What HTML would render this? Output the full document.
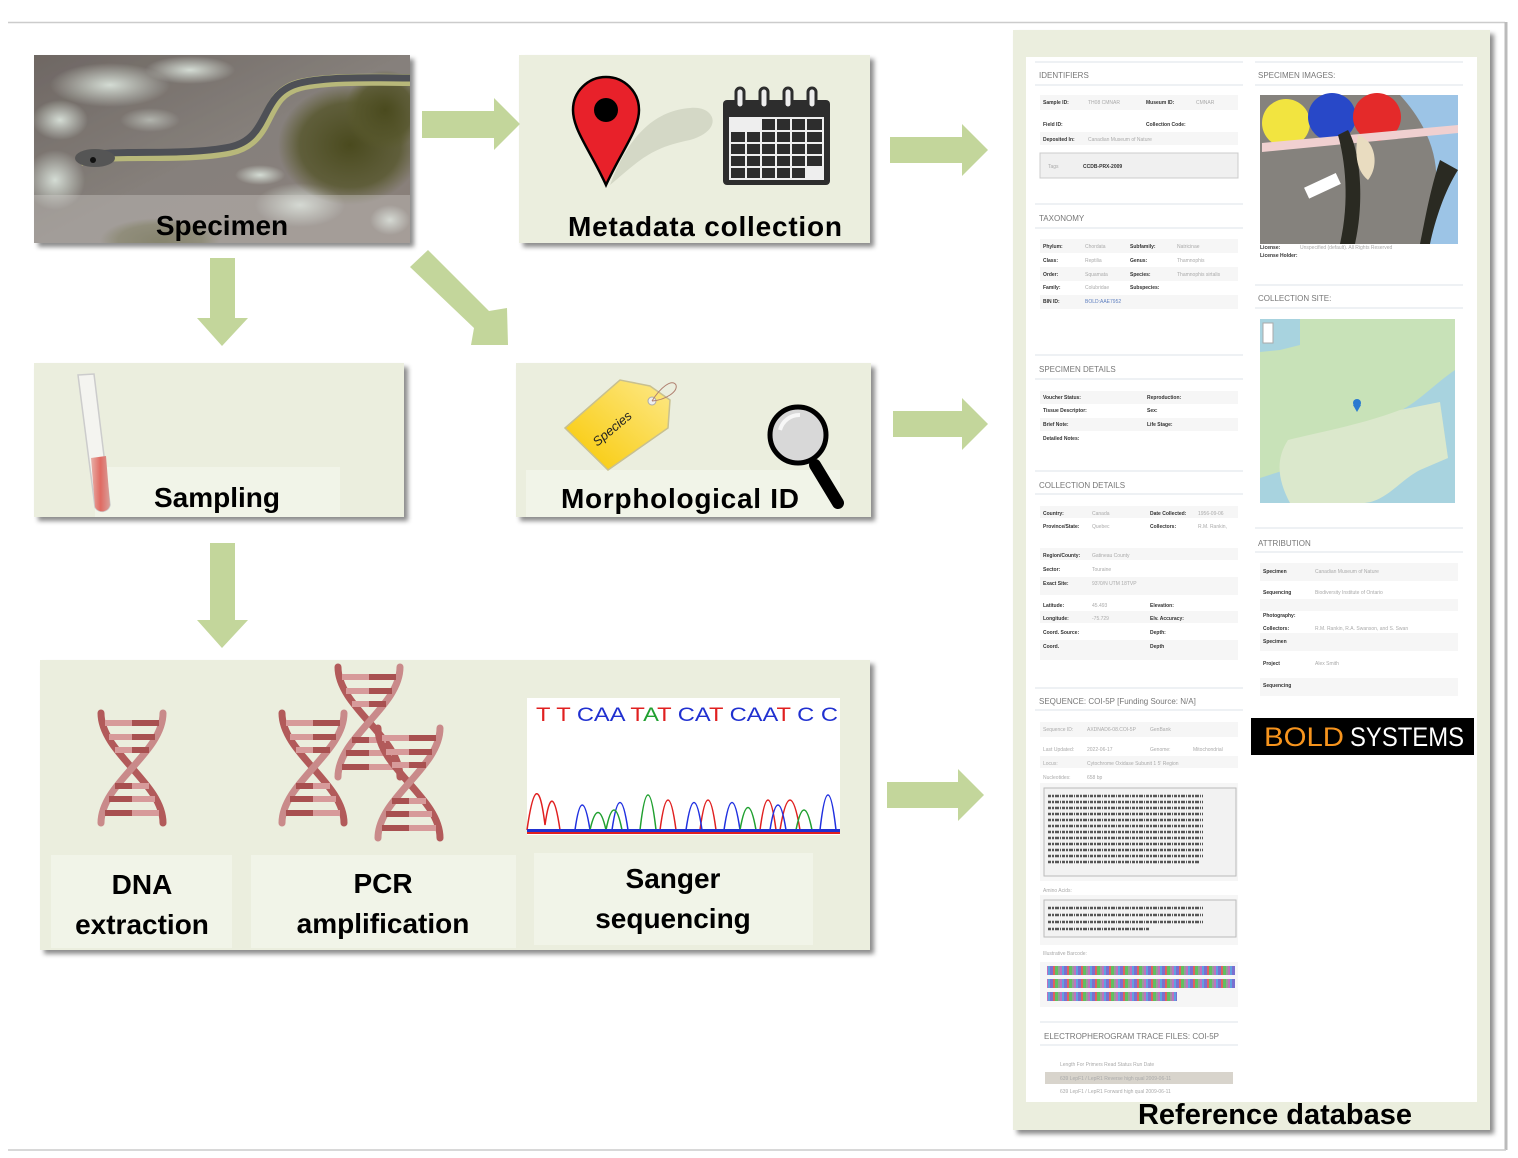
<!DOCTYPE html>
<html><head><meta charset="utf-8"><style>
html,body{margin:0;padding:0;background:#fff;width:1518px;height:1158px;overflow:hidden}
svg{display:block}
.lb{font-family:"Liberation Sans",sans-serif;font-weight:bold;fill:#000}
.h{font-family:"Liberation Sans",sans-serif;font-size:8px;fill:#777}
.s{font-family:"Liberation Sans",sans-serif;font-size:5px;fill:#333;font-weight:bold}
.g{font-family:"Liberation Sans",sans-serif;font-size:5px;fill:#aaa}
</style></head><body>
<svg width="1518" height="1158" viewBox="0 0 1518 1158" xmlns="http://www.w3.org/2000/svg">
<defs>
<clipPath id="pc"><rect x="34" y="55" width="376" height="188"/></clipPath>
<filter id="sh" x="-5%" y="-5%" width="115%" height="115%"><feDropShadow dx="4" dy="4" stdDeviation="2.5" flood-color="#000" flood-opacity="0.45"/></filter>
<linearGradient id="rock" x1="0" y1="0" x2="1" y2="1"><stop offset="0" stop-color="#6e6763"/><stop offset="0.5" stop-color="#86807b"/><stop offset="1" stop-color="#8a807a"/></linearGradient>
<radialGradient id="moss" cx="0.5" cy="0.5" r="0.5"><stop offset="0" stop-color="#4a4a1e"/><stop offset="0.7" stop-color="#55552a" stop-opacity="0.8"/><stop offset="1" stop-color="#5a5a2a" stop-opacity="0"/></radialGradient>
<radialGradient id="lichen" cx="0.5" cy="0.5" r="0.5"><stop offset="0" stop-color="#d4dcd4"/><stop offset="1" stop-color="#d4dcd4" stop-opacity="0"/></radialGradient>
<linearGradient id="tag" x1="0" y1="1" x2="1" y2="0"><stop offset="0" stop-color="#f8c800"/><stop offset="1" stop-color="#fde98a"/></linearGradient>
<linearGradient id="tube" x1="0" y1="0" x2="1" y2="0"><stop offset="0" stop-color="#e8b0a8"/><stop offset="0.5" stop-color="#e06a62"/><stop offset="1" stop-color="#d8a09a"/></linearGradient>
<pattern id="bc" width="14" height="10" patternUnits="userSpaceOnUse"><rect width="3" height="10" fill="#7b6fd0"/><rect x="3" width="2" height="10" fill="#e06060"/><rect x="5" width="3" height="10" fill="#60c060"/><rect x="8" width="2" height="10" fill="#9a9a9a"/><rect x="10" width="2" height="10" fill="#c070c0"/><rect x="12" width="2" height="10" fill="#60a0e0"/></pattern>
<g id="helix">
<path d="M4 0 C4 40 66 70 66 110" fill="none" stroke="#b25a5a" stroke-width="7" stroke-linecap="round"/>
<path d="M66 0 C66 40 4 70 4 110" fill="none" stroke="#c98a8a" stroke-width="7" stroke-linecap="round"/>
<g stroke-width="6">
<line x1="8" y1="10" x2="62" y2="10" stroke="#d79a9a"/><line x1="35" y1="10" x2="62" y2="10" stroke="#a85050"/>
<line x1="12" y1="24" x2="58" y2="24" stroke="#d79a9a"/><line x1="35" y1="24" x2="58" y2="24" stroke="#a85050"/>
<line x1="18" y1="37" x2="52" y2="37" stroke="#d79a9a"/><line x1="35" y1="37" x2="52" y2="37" stroke="#a85050"/>
<line x1="18" y1="73" x2="52" y2="73" stroke="#a85050"/><line x1="35" y1="73" x2="52" y2="73" stroke="#d79a9a"/>
<line x1="12" y1="86" x2="58" y2="86" stroke="#a85050"/><line x1="35" y1="86" x2="58" y2="86" stroke="#d79a9a"/>
<line x1="8" y1="100" x2="62" y2="100" stroke="#a85050"/><line x1="35" y1="100" x2="62" y2="100" stroke="#d79a9a"/>
</g></g>
</defs>

<line x1="8" y1="22.5" x2="1505" y2="22.5" stroke="#ccc" stroke-width="1.5"/>
<line x1="1506" y1="22" x2="1506" y2="1150" stroke="#bbb" stroke-width="3"/>
<line x1="8" y1="1150" x2="1506" y2="1150" stroke="#ccc" stroke-width="1.5"/>

<!-- Specimen photo -->
<g filter="url(#sh)"><rect x="34" y="55" width="376" height="188" fill="url(#rock)"/></g>
<g clip-path="url(#pc)">
<ellipse cx="110" cy="85" rx="60" ry="22" fill="url(#lichen)"/>
<ellipse cx="190" cy="70" rx="45" ry="14" fill="url(#lichen)"/>
<ellipse cx="60" cy="120" rx="28" ry="20" fill="url(#lichen)"/>
<ellipse cx="55" cy="180" rx="30" ry="30" fill="url(#lichen)"/>
<ellipse cx="300" cy="205" rx="45" ry="22" fill="url(#lichen)"/>
<ellipse cx="260" cy="175" rx="25" ry="10" fill="url(#lichen)"/>
<ellipse cx="150" cy="120" rx="30" ry="12" fill="url(#lichen)" opacity="0.6"/>
<ellipse cx="350" cy="145" rx="72" ry="60" fill="url(#moss)"/>
<ellipse cx="385" cy="110" rx="40" ry="40" fill="url(#moss)"/>
<ellipse cx="160" cy="240" rx="60" ry="22" fill="url(#moss)" opacity="0.7"/>
<ellipse cx="390" cy="220" rx="20" ry="15" fill="url(#lichen)"/>
<path d="M80 160 C110 150 180 160 230 150 C275 140 260 95 300 85 C330 78 380 80 410 80" fill="none" stroke="#b8b87a" stroke-width="12"/>
<path d="M80 157 C110 148 180 157 230 147 C272 138 258 93 300 83 C330 76 380 78 410 78" fill="none" stroke="#4e5056" stroke-width="7"/>
<ellipse cx="95" cy="158" rx="20" ry="9" fill="#555"/>
<circle cx="93" cy="160" r="3" fill="#111"/>
<rect x="34" y="195" width="376" height="48" fill="#d8d4d0" opacity="0.35"/>
</g>
<text class="lb" x="222" y="235" font-size="28" text-anchor="middle">Specimen</text>

<!-- Metadata -->
<rect x="519" y="55" width="351" height="188" fill="#ebeede" filter="url(#sh)"/>
<path d="M610 185 C640 160 650 148 690 140 C725 130 715 105 690 108 C660 110 630 130 610 185Z" fill="#d4d8c6"/>
<path d="M606 185 C590 150 573 130 573 110 A33 33 0 1 1 639 110 C639 130 622 150 606 185Z" fill="#e8212a" stroke="#000" stroke-width="2.5"/>
<circle cx="606" cy="110" r="12" fill="#000"/>
<rect x="723" y="100" width="107" height="85" rx="4" fill="#2d2d2d"/>
<rect x="729" y="117" width="95" height="63" fill="#eee"/>
<g fill="#2d2d2d">
<rect x="762" y="119" width="13" height="11"/><rect x="777" y="119" width="13" height="11"/><rect x="792" y="119" width="13" height="11"/><rect x="807" y="119" width="15" height="11"/>
<rect x="731" y="132" width="14" height="10"/><rect x="747" y="132" width="13" height="10"/><rect x="762" y="132" width="13" height="10"/><rect x="777" y="132" width="13" height="10"/><rect x="792" y="132" width="13" height="10"/><rect x="807" y="132" width="15" height="10"/>
<rect x="731" y="144" width="14" height="10"/><rect x="747" y="144" width="13" height="10"/><rect x="762" y="144" width="13" height="10"/><rect x="777" y="144" width="13" height="10"/><rect x="792" y="144" width="13" height="10"/><rect x="807" y="144" width="15" height="10"/>
<rect x="731" y="156" width="14" height="10"/><rect x="747" y="156" width="13" height="10"/><rect x="762" y="156" width="13" height="10"/><rect x="777" y="156" width="13" height="10"/><rect x="792" y="156" width="13" height="10"/><rect x="807" y="156" width="15" height="10"/>
<rect x="731" y="168" width="14" height="10"/><rect x="747" y="168" width="13" height="10"/><rect x="762" y="168" width="13" height="10"/><rect x="777" y="168" width="13" height="10"/><rect x="792" y="168" width="13" height="10"/>
</g>
<g fill="#eee" stroke="#2d2d2d" stroke-width="3"><rect x="736" y="88" width="8" height="20" rx="4"/><rect x="760" y="88" width="8" height="20" rx="4"/><rect x="784" y="88" width="8" height="20" rx="4"/><rect x="808" y="88" width="8" height="20" rx="4"/></g>
<text class="lb" x="705" y="236" font-size="28" text-anchor="middle" textLength="274">Metadata collection</text>

<!-- Sampling -->
<rect x="34" y="363" width="370" height="154" fill="#ebeede" filter="url(#sh)"/>
<rect x="95" y="467" width="245" height="50" fill="#f1f4e8"/>
<path d="M78 375 L94 374 L110 505 A8 8 0 0 1 95 507 Z" fill="#f4f4f0" stroke="#ccc" stroke-width="1.5"/>
<path d="M91 458 L106 456 L110 505 A8 8 0 0 1 95 507 Z" fill="url(#tube)"/>
<text class="lb" x="217" y="507" font-size="28" text-anchor="middle">Sampling</text>

<!-- Morphological -->
<rect x="516" y="363" width="355" height="154" fill="#ebeede" filter="url(#sh)"/>
<rect x="526" y="470" width="314" height="47" fill="#f1f4e8"/>
<path d="M565 428 L620 380 L650 386 L670 400 L668 428 L608 470 Z" fill="url(#tag)" stroke="#c8c090" stroke-width="1.5"/>
<circle cx="652" cy="401" r="4" fill="#eee" stroke="#aaa"/>
<path d="M652 401 C660 388 672 378 676 385 C678 392 665 400 652 401" fill="none" stroke="#b08070" stroke-width="1"/>
<text x="615" y="432" font-family="Liberation Sans,sans-serif" font-size="13" font-style="italic" transform="rotate(-40 615 432)" fill="#222" text-anchor="middle">Species</text>
<line x1="815" y1="465" x2="838" y2="503" stroke="#000" stroke-width="12" stroke-linecap="round"/>
<circle cx="798" cy="435" r="28" fill="#d8d8d8" stroke="#000" stroke-width="5"/>
<path d="M780 430 A20 20 0 0 1 800 415" fill="none" stroke="#fff" stroke-width="4" opacity="0.8"/>
<text class="lb" x="680" y="508" font-size="28" text-anchor="middle" textLength="238">Morphological ID</text>

<!-- Bottom box -->
<rect x="40" y="660" width="830" height="290" fill="#ebeede" filter="url(#sh)"/>
<rect x="51" y="855" width="181" height="93" fill="#f1f4e8"/>
<rect x="251" y="855" width="265" height="93" fill="#f1f4e8"/>
<rect x="534" y="853" width="279" height="92" fill="#f1f4e8"/>
<use href="#helix" x="97" y="713"/>
<use href="#helix" x="278" y="713"/>
<use href="#helix" x="334" y="667"/>
<use href="#helix" x="374" y="728"/>
<rect x="527" y="698" width="313" height="137" fill="#fff"/>
<text x="536" y="721" font-family="Liberation Sans,sans-serif" font-size="19" textLength="302" lengthAdjust="spacingAndGlyphs"><tspan fill="#e02020">T T </tspan><tspan fill="#2030d0">CAA</tspan><tspan fill="#e02020"> T</tspan><tspan fill="#20a030">A</tspan><tspan fill="#e02020">T </tspan><tspan fill="#2030d0">CA</tspan><tspan fill="#e02020">T </tspan><tspan fill="#2030d0">CAA</tspan><tspan fill="#e02020">T </tspan><tspan fill="#2030d0">C C</tspan></text>
<g fill="none" stroke-width="1.5">
<path d="M527 830 Q537 760 545 825 Q552 775 560 830 M660 830 Q668 770 676 830 M700 830 Q708 770 716 830 M760 830 Q768 770 776 830 M780 830 Q790 770 800 830" stroke="#e02020"/>
<path d="M575 830 Q582 780 590 830 M612 830 Q620 775 628 830 M686 830 Q694 775 702 830 M724 830 Q732 775 740 830 M770 830 Q778 780 786 830 M820 830 Q828 760 836 830" stroke="#2030e0"/>
<path d="M590 830 Q598 795 606 830 Q614 790 622 830 M640 830 Q648 760 656 830 M740 830 Q748 785 756 830 M796 830 Q804 790 812 830" stroke="#20a030"/>
</g>
<rect x="527" y="829" width="313" height="3" fill="#2030d0"/>
<rect x="527" y="832" width="313" height="2" fill="#e02020"/>
<text class="lb" x="142" y="894" font-size="28" text-anchor="middle">DNA</text>
<text class="lb" x="142" y="934" font-size="28" text-anchor="middle">extraction</text>
<text class="lb" x="383" y="893" font-size="28" text-anchor="middle">PCR</text>
<text class="lb" x="383" y="933" font-size="28" text-anchor="middle">amplification</text>
<text class="lb" x="673" y="888" font-size="28" text-anchor="middle">Sanger</text>
<text class="lb" x="673" y="928" font-size="28" text-anchor="middle">sequencing</text>

<!-- Arrows -->
<g fill="#c3d69b">
<path d="M422 111 L494 111 L494 98 L520 124 L494 150 L494 138 L422 138Z"/>
<path d="M890 137 L962 137 L962 124 L988 150 L962 176 L962 163 L890 163Z"/>
<path d="M893 411 L962 411 L962 398 L988 424 L962 450 L962 437 L893 437Z"/>
<path d="M887 782 L958 782 L958 769 L984 795 L958 821 L958 808 L887 808Z"/>
<path d="M210 258 L235 258 L235 318 L248 318 L222 346 L197 318 L210 318Z"/>
<path d="M210 543 L235 543 L235 620 L248 620 L222 648 L197 620 L210 620Z"/>
<path d="M410 267 L428 250 L489 311 L507 308 L508 345 L471 345 L474 328Z"/>
</g>

<!-- Reference database panel -->
<rect x="1013" y="30" width="477" height="1100" fill="#ebeede" filter="url(#sh)"/>
<rect x="1026" y="57" width="451" height="1045" fill="#fff"/>
<text class="lb" x="1275" y="1124" font-size="29" text-anchor="middle">Reference database</text>

<g stroke="#dde3ea" stroke-width="1">
<line x1="1035" y1="62" x2="1243" y2="62"/><line x1="1035" y1="85" x2="1243" y2="85"/>
<line x1="1035" y1="204" x2="1243" y2="204"/><line x1="1035" y1="228" x2="1243" y2="228"/>
<line x1="1035" y1="355" x2="1243" y2="355"/><line x1="1035" y1="379" x2="1243" y2="379"/>
<line x1="1035" y1="471" x2="1243" y2="471"/><line x1="1035" y1="494" x2="1243" y2="494"/>
<line x1="1035" y1="688" x2="1243" y2="688"/><line x1="1035" y1="710" x2="1243" y2="710"/>
<line x1="1040" y1="1022" x2="1238" y2="1022"/><line x1="1040" y1="1045" x2="1238" y2="1045"/>
<line x1="1255" y1="62" x2="1463" y2="62"/><line x1="1255" y1="85" x2="1463" y2="85"/>
<line x1="1255" y1="285" x2="1463" y2="285"/><line x1="1255" y1="308" x2="1463" y2="308"/>
<line x1="1255" y1="528" x2="1463" y2="528"/><line x1="1255" y1="552" x2="1463" y2="552"/>
</g>
<text class="h" x="1039" y="78">IDENTIFIERS</text>
<text class="h" x="1039" y="221">TAXONOMY</text>
<text class="h" x="1039" y="372">SPECIMEN DETAILS</text>
<text class="h" x="1039" y="488">COLLECTION DETAILS</text>
<text class="h" x="1039" y="704">SEQUENCE: COI-5P [Funding Source: N/A]</text>
<text class="h" x="1044" y="1039">ELECTROPHEROGRAM TRACE FILES: COI-5P</text>
<text class="h" x="1258" y="78">SPECIMEN IMAGES:</text>
<text class="h" x="1258" y="301">COLLECTION SITE:</text>
<text class="h" x="1258" y="546">ATTRIBUTION</text>

<g fill="#f6f6f6">
<rect x="1040" y="95" width="198" height="15"/><rect x="1040" y="132" width="198" height="13"/>
<rect x="1040" y="239" width="198" height="14"/><rect x="1040" y="267" width="198" height="14"/><rect x="1040" y="295" width="198" height="14"/>
<rect x="1040" y="391" width="198" height="13"/><rect x="1040" y="418" width="198" height="13"/>
<rect x="1040" y="506" width="198" height="12"/><rect x="1040" y="548" width="198" height="12"/><rect x="1040" y="577" width="198" height="18"/><rect x="1040" y="611" width="198" height="12"/><rect x="1040" y="640" width="198" height="20"/>
<rect x="1040" y="722" width="198" height="15"/><rect x="1040" y="756" width="198" height="12"/><rect x="1040" y="783" width="198" height="98"/><rect x="1040" y="895" width="198" height="50"/><rect x="1040" y="962" width="198" height="45"/>
<rect x="1260" y="563" width="198" height="18"/><rect x="1260" y="599" width="198" height="12"/><rect x="1260" y="633" width="198" height="18"/><rect x="1260" y="678" width="198" height="18"/>
</g>
<rect x="1040" y="153" width="198" height="25" fill="#f0f0f0" stroke="#ccc"/>
<text class="g" x="1048" y="168">Tags</text><text class="s" x="1083" y="168" fill="#2a5aa0">CCDB-PRX-2009</text>
<g class="s">
<text x="1043" y="104">Sample ID:</text><text x="1146" y="104">Museum ID:</text>
<text x="1043" y="126">Field ID:</text><text x="1146" y="126">Collection Code:</text>
<text x="1043" y="141">Deposited In:</text>
<text x="1043" y="248">Phylum:</text><text x="1130" y="248">Subfamily:</text>
<text x="1043" y="262">Class:</text><text x="1130" y="262">Genus:</text>
<text x="1043" y="276">Order:</text><text x="1130" y="276">Species:</text>
<text x="1043" y="289">Family:</text><text x="1130" y="289">Subspecies:</text>
<text x="1043" y="303">BIN ID:</text>
<text x="1043" y="399">Voucher Status:</text><text x="1147" y="399">Reproduction:</text>
<text x="1043" y="412">Tissue Descriptor:</text><text x="1147" y="412">Sex:</text>
<text x="1043" y="426">Brief Note:</text><text x="1147" y="426">Life Stage:</text>
<text x="1043" y="440">Detailed Notes:</text>
<text x="1043" y="515">Country:</text><text x="1150" y="515">Date Collected:</text>
<text x="1043" y="528">Province/State:</text><text x="1150" y="528">Collectors:</text>
<text x="1043" y="557">Region/County:</text><text x="1043" y="571">Sector:</text><text x="1043" y="585">Exact Site:</text>
<text x="1043" y="607">Latitude:</text><text x="1150" y="607">Elevation:</text>
<text x="1043" y="620">Longitude:</text><text x="1150" y="620">Elv. Accuracy:</text>
<text x="1043" y="634">Coord. Source:</text><text x="1150" y="634">Depth:</text>
<text x="1043" y="648">Coord.</text><text x="1150" y="648">Depth</text>
<text x="1263" y="573">Specimen</text><text x="1263" y="594">Sequencing</text><text x="1263" y="617">Photography:</text><text x="1263" y="630">Collectors:</text><text x="1263" y="643">Specimen</text><text x="1263" y="665">Project</text><text x="1263" y="687">Sequencing</text>
<text x="1260" y="249">License:</text><text x="1260" y="257">License Holder:</text>
</g>
<g class="g">
<text x="1088" y="104">TH08 CMNAR</text><text x="1196" y="104">CMNAR</text>
<text x="1088" y="141">Canadian Museum of Nature</text>
<text x="1085" y="248">Chordata</text><text x="1177" y="248">Natricinae</text>
<text x="1085" y="262">Reptilia</text><text x="1177" y="262">Thamnophis</text>
<text x="1085" y="276">Squamata</text><text x="1177" y="276">Thamnophis sirtalis</text>
<text x="1085" y="289">Colubridae</text><text x="1085" y="303" fill="#6080c0">BOLD:AAE7952</text>
<text x="1092" y="515">Canada</text><text x="1198" y="515">1956-09-06</text>
<text x="1092" y="528">Quebec</text><text x="1198" y="528">R.M. Rankin,</text>
<text x="1092" y="557">Gatineau County</text><text x="1092" y="571">Touraine</text><text x="1092" y="585">93'/0/N UTM 18TVP</text>
<text x="1092" y="607">45.493</text><text x="1092" y="620">-75.729</text>
<text x="1043" y="731">Sequence ID:</text><text x="1087" y="731">AXDNAD6-08.COI-5P</text><text x="1150" y="731">GenBank</text>
<text x="1043" y="751">Last Updated:</text><text x="1087" y="751">2022-06-17</text><text x="1150" y="751">Genome:</text><text x="1193" y="751">Mitochondrial</text>
<text x="1043" y="765">Locus:</text><text x="1087" y="765">Cytochrome Oxidase Subunit 1 5' Region</text>
<text x="1043" y="779">Nucleotides:</text><text x="1087" y="779">658 bp</text>
<text x="1043" y="892">Amino Acids:</text><text x="1043" y="955">Illustrative Barcode:</text>
<text x="1315" y="573">Canadian Museum of Nature</text><text x="1315" y="594">Biodiversity Institute of Ontario</text><text x="1315" y="630">R.M. Rankin, R.A. Swanson, and S. Swan</text><text x="1315" y="665">Alex Smith</text>
<text x="1300" y="249">Unspecified (default). All Rights Reserved</text>
<text x="1060" y="1066">Length   For Primers      Read      Status     Run Date</text>
</g>
<rect x="1044" y="788" width="192" height="88" fill="#f2f2f2" stroke="#bbb"/>
<g stroke="#555" stroke-width="2.5" stroke-dasharray="3 1 2 1 4 1 1 1">
<line x1="1048" y1="796" x2="1203" y2="796"/><line x1="1048" y1="802" x2="1203" y2="802"/><line x1="1048" y1="808" x2="1203" y2="808"/><line x1="1048" y1="814" x2="1203" y2="814"/><line x1="1048" y1="820" x2="1203" y2="820"/><line x1="1048" y1="826" x2="1203" y2="826"/><line x1="1048" y1="832" x2="1203" y2="832"/><line x1="1048" y1="838" x2="1203" y2="838"/><line x1="1048" y1="844" x2="1203" y2="844"/><line x1="1048" y1="850" x2="1203" y2="850"/><line x1="1048" y1="856" x2="1203" y2="856"/><line x1="1048" y1="862" x2="1200" y2="862"/>
</g>
<rect x="1044" y="900" width="192" height="37" fill="#f2f2f2" stroke="#bbb"/>
<g stroke="#555" stroke-width="2.5" stroke-dasharray="3 1 2 1 4 1 1 1">
<line x1="1048" y1="908" x2="1203" y2="908"/><line x1="1048" y1="915" x2="1203" y2="915"/><line x1="1048" y1="922" x2="1203" y2="922"/><line x1="1048" y1="929" x2="1150" y2="929"/>
</g>
<rect x="1047" y="966" width="188" height="9" fill="url(#bc)"/>
<rect x="1047" y="979" width="188" height="9" fill="url(#bc)"/>
<rect x="1047" y="992" width="130" height="9" fill="url(#bc)"/>
<rect x="1045" y="1072" width="188" height="12" fill="#d8d4cc"/>
<text class="g" x="1060" y="1080" fill="#777">639   LepF1 / LepR1    Reverse   high qual   2009-06-11</text>
<text class="g" x="1060" y="1093">639   LepF1 / LepR1    Forward   high qual   2009-06-11</text>

<!-- specimen image -->
<rect x="1260" y="95" width="198" height="149" fill="#85827d"/>
<path d="M1400 95 L1458 95 L1458 244 L1420 244 C1440 200 1450 150 1400 95Z" fill="#9cc4e6"/>
<circle cx="1286" cy="123" r="24" fill="#f2e440"/>
<circle cx="1332" cy="117" r="24" fill="#2848c8"/>
<circle cx="1377" cy="117" r="24" fill="#e42a2a"/>
<path d="M1262 143 L1458 125 L1458 133 L1262 152Z" fill="#f0d0d0"/>
<path d="M1348 130 C1360 150 1365 200 1355 244 L1340 244 C1350 200 1345 160 1338 135Z" fill="#2a2a22"/>
<path d="M1358 135 C1375 140 1380 165 1368 180 C1355 170 1355 150 1358 135Z" fill="#e9dcc0"/>
<rect x="1305" y="180" width="35" height="12" fill="#fff" transform="rotate(-25 1322 186)"/>
<path d="M1440 160 C1430 190 1425 220 1420 244 L1430 244 C1435 220 1445 190 1458 170Z" fill="#2a2a22"/>

<!-- map -->
<rect x="1260" y="319" width="195" height="184" fill="#a8d3df"/>
<path d="M1260 319 L1455 319 L1455 370 C1440 380 1425 395 1410 405 C1385 420 1370 435 1345 440 C1315 447 1295 455 1285 470 L1260 478Z" fill="#c8e2b8"/>
<path d="M1260 319 L1300 319 L1300 345 L1280 350 L1260 352Z" fill="#a8d3df"/>
<path d="M1288 440 C1320 432 1360 425 1400 410 L1440 402 L1448 458 L1420 470 C1400 480 1385 503 1362 503 L1290 503 C1278 480 1275 460 1288 440Z" fill="#dbe8cc"/>
<rect x="1263" y="323" width="10" height="20" fill="#fff" stroke="#aaa"/>
<circle cx="1357" cy="403" r="4" fill="#2a7ad0"/>
<path d="M1353 405 L1357 412 L1361 405Z" fill="#2a7ad0"/>

<!-- BOLD logo -->
<rect x="1251" y="718" width="223" height="37" fill="#000"/>
<text x="1264" y="746" font-family="Liberation Sans,sans-serif" font-size="27" fill="#f7941d" textLength="80" lengthAdjust="spacingAndGlyphs">BOLD</text>
<text x="1350" y="746" font-family="Liberation Sans,sans-serif" font-size="27" fill="#fff" textLength="114" lengthAdjust="spacingAndGlyphs">SYSTEMS</text>
</svg>
</body></html>
